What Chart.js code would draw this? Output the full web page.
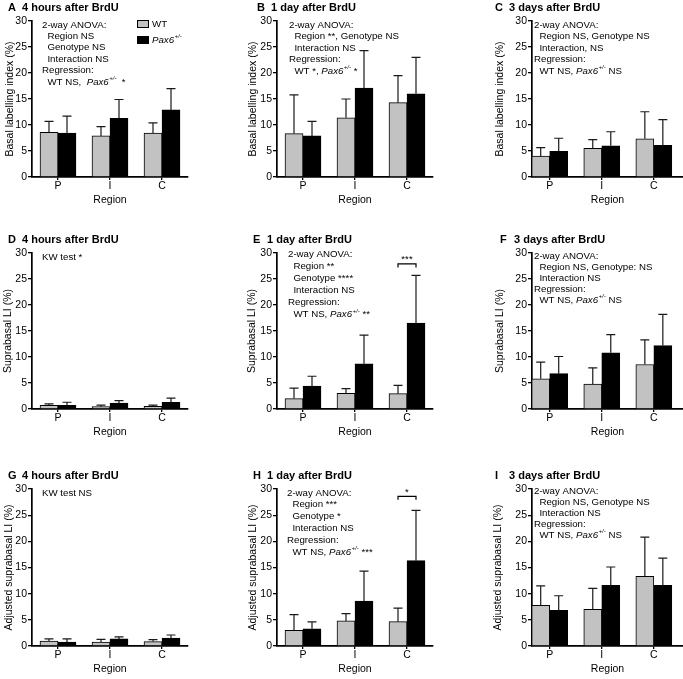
<!DOCTYPE html>
<html>
<head>
<meta charset="utf-8">
<script src="https://cdn.jsdelivr.net/npm/chart.js@4.4.1/dist/chart.umd.min.js"></script>
<style>
  html, body { margin: 0; padding: 0; background: #fff; }
  #fig { position: relative; width: 683px; height: 679px; overflow: hidden; }
  #fig canvas { position: absolute; }
</style>
</head>
<body>
<div id="fig"></div>
<script>
// ---- data (mean and SD) ----
const regions = ['P', 'I', 'C'];
const yTicks = [0, 5, 10, 15, 20, 25, 30];

// basal labelling index
const wtA = [8.6, 7.9, 8.45],   wtA_sd = [2.1, 1.8, 1.95];
const paxA = [8.45, 11.3, 12.9], paxA_sd = [3.25, 3.6, 4.1];
const wtB = [8.35, 11.4, 14.3],  wtB_sd = [7.45, 3.6, 5.2];
const paxB = [7.9, 17.1, 16.0],  paxB_sd = [2.8, 7.2, 7.0];
const wtC = [4.0, 5.5, 7.35],    wtC_sd = [1.65, 1.7, 5.2];
const paxC = [4.95, 6.0, 6.1],   paxC_sd = [2.5, 2.7, 4.95];

// suprabasal LI
const wtD = [0.7, 0.45, 0.5],    wtD_sd = [0.3, 0.3, 0.25];
const paxD = [0.7, 1.15, 1.3],   paxD_sd = [0.6, 0.45, 0.8];
const wtE = [2.0, 3.0, 2.95],    wtE_sd = [2.0, 0.9, 1.6];
const paxE = [4.4, 8.7, 16.5],   paxE_sd = [1.9, 5.5, 9.2];
const wtF = [5.8, 4.8, 8.55],    wtF_sd = [3.2, 3.1, 4.75];
const paxF = [6.8, 10.8, 12.2],  paxF_sd = [3.3, 3.5, 6.0];

// adjusted suprabasal LI
const wtG = [0.96, 0.77, 0.85],  wtG_sd = [0.4, 0.5, 0.35];
const paxG = [0.77, 1.35, 1.5],  paxG_sd = [0.6, 0.4, 0.6];
const wtH = [3.0, 4.8, 4.65],    wtH_sd = [3.0, 1.4, 2.6];
const paxH = [3.3, 8.6, 16.3],   paxH_sd = [1.3, 5.7, 9.6];
const wtI = [7.75, 7.0, 13.3],   wtI_sd = [3.75, 4.0, 7.5];
const paxI = [6.8, 11.6, 11.6],  paxI_sd = [2.8, 3.5, 5.2];

// ---- text ----
const timeTitles = ['4 hours after BrdU', '1 day after BrdU', '3 days after BrdU'];
const yTitles = ['Basal labelling index (%)', 'Suprabasal LI (%)', 'Adjusted suprabasal LI (%)'];
const notesA = ['2-way ANOVA:', '  Region NS', '  Genotype NS', '  Interaction NS', 'Regression:', '  WT NS,  Pax6+/-  *'];
const notesB = ['2-way ANOVA:', '  Region **, Genotype NS', '  Interaction NS', 'Regression:', '  WT *, Pax6+/- *'];
const notesC = ['2-way ANOVA:', '  Region NS, Genotype NS', '  Interaction, NS', 'Regression:', '  WT NS, Pax6+/- NS'];
const notesD = ['KW test *'];
const notesE = ['2-way ANOVA:', '  Region **', '  Genotype ****', '  Interaction NS', 'Regression:', '  WT NS, Pax6+/- **'];
const notesF = ['2-way ANOVA:', '  Region NS, Genotype: NS', '  Interaction NS', 'Regression:', '  WT NS, Pax6+/- NS'];
const notesG = ['KW test NS'];
const notesH = ['2-way ANOVA:', '  Region ***', '  Genotype *', '  Interaction NS', 'Regression:', '  WT NS, Pax6+/- ***'];
const notesI = ['2-way ANOVA:', '  Region NS, Genotype NS', '  Interaction NS', 'Regression:', '  WT NS, Pax6+/- NS'];

// ---- layout of the 3x3 grid (page pixels) ----
const colLeft = [0, 228, 455], colWidth = [228, 227, 228];
const rowTop = [0, 226, 452], rowHeight = [226, 226, 227];
const axisX = [32, 277, 532], plotRight = [188, 433, 683];
const plotTop = [21, 253, 489], plotBottom = [177, 409, 646];
const xRange = [[-0.5, 2.5], [-0.5, 2.5], [-0.34, 2.56]];

const FONT = '"Liberation Sans", Arial, Helvetica, sans-serif';
const GREY = '#c2c2c2';

const panels = [
  { id: 'A', row: 0, col: 0, wt: wtA, wtErr: wtA_sd, pax: paxA, paxErr: paxA_sd, notes: notesA, nx: 10, ny: 4, gap: 11.4, titleX: 8, yTitleX: 10, legend: true },
  { id: 'B', row: 0, col: 1, wt: wtB, wtErr: wtB_sd, pax: paxB, paxErr: paxB_sd, notes: notesB, nx: 12, ny: 4, gap: 11.5, titleX: 257, yTitleX: 253 },
  { id: 'C', row: 0, col: 2, wt: wtC, wtErr: wtC_sd, pax: paxC, paxErr: paxC_sd, notes: notesC, nx: 2, ny: 4, gap: 11.5, titleX: 495, yTitleX: 500 },
  { id: 'D', row: 1, col: 0, wt: wtD, wtErr: wtD_sd, pax: paxD, paxErr: paxD_sd, notes: notesD, nx: 10, ny: 4, gap: 11.5, titleX: 8, yTitleX: 8 },
  { id: 'E', row: 1, col: 1, wt: wtE, wtErr: wtE_sd, pax: paxE, paxErr: paxE_sd, notes: notesE, nx: 11, ny: 1, gap: 12.1, titleX: 253, yTitleX: 252, bracket: { value: 27.9, stars: '***' } },
  { id: 'F', row: 1, col: 2, wt: wtF, wtErr: wtF_sd, pax: paxF, paxErr: paxF_sd, notes: notesF, nx: 2, ny: 3, gap: 11, titleX: 500, yTitleX: 500 },
  { id: 'G', row: 2, col: 0, wt: wtG, wtErr: wtG_sd, pax: paxG, paxErr: paxG_sd, notes: notesG, nx: 10, ny: 4, gap: 11.5, titleX: 8, yTitleX: 9 },
  { id: 'H', row: 2, col: 1, wt: wtH, wtErr: wtH_sd, pax: paxH, paxErr: paxH_sd, notes: notesH, nx: 10, ny: 4, gap: 11.8, titleX: 253, yTitleX: 253, bracket: { value: 28.6, stars: '*' } },
  { id: 'I', row: 2, col: 2, wt: wtI, wtErr: wtI_sd, pax: paxI, paxErr: paxI_sd, notes: notesI, nx: 2, ny: 2, gap: 11, titleX: 495, yTitleX: 498 }
];

// text with an italic Pax6 and a raised +/-
function drawRich(ctx, text, x, y, size) {
  let cx = x;
  text.split(/(Pax6\+\/-)/).forEach(part => {
    if (!part) return;
    if (part === 'Pax6+/-') {
      ctx.font = `italic ${size}px ${FONT}`;
      ctx.fillText('Pax6', cx, y);
      cx += ctx.measureText('Pax6').width;
      ctx.font = `italic ${size * 0.62}px ${FONT}`;
      ctx.fillText('+/-', cx + 0.5, y - size * 0.36);
      cx += ctx.measureText('+/-').width + 0.5;
    } else {
      ctx.font = `${size}px ${FONT}`;
      ctx.fillText(part, cx, y);
      cx += ctx.measureText(part).width;
    }
  });
}

function makeDecor(p, cl, ct) {
  return {
    id: 'decor' + p.id,
    afterDatasetsDraw(chart) {
      const ctx = chart.ctx, y = chart.scales.y;
      ctx.save();
      ctx.strokeStyle = '#1a1a1a';
      ctx.lineWidth = 1.2;
      [p.wtErr, p.paxErr].forEach((errs, d) => {
        const vals = d === 0 ? p.wt : p.pax;
        chart.getDatasetMeta(d).data.forEach((bar, i) => {
          const top = y.getPixelForValue(vals[i] + errs[i]);
          ctx.beginPath();
          ctx.moveTo(bar.x, bar.y);
          ctx.lineTo(bar.x, top);
          ctx.moveTo(bar.x - 4.5, top);
          ctx.lineTo(bar.x + 4.5, top);
          ctx.stroke();
        });
      });
      ctx.restore();
    },
    afterDraw(chart) {
      const ctx = chart.ctx, area = chart.chartArea, y = chart.scales.y;
      ctx.save();
      ctx.fillStyle = '#000';
      ctx.textBaseline = 'middle';
      ctx.textAlign = 'left';

      // panel title
      const ty = plotTop[p.row] - 13 - ct;
      ctx.font = `bold 11px ${FONT}`;
      ctx.fillText(p.id, p.titleX - cl, ty);
      ctx.fillText(timeTitles[p.col], p.titleX - cl + 14, ty);

      // statistics notes
      p.notes.forEach((line, i) => {
        drawRich(ctx, line, area.left + p.nx, area.top + p.ny + i * p.gap, 9.7);
      });

      // legend (panel A only)
      if (p.legend) {
        const lx = area.left + 105;
        ctx.lineWidth = 1;
        ctx.strokeStyle = '#000';
        ctx.fillStyle = GREY;
        ctx.fillRect(lx, area.top - 1, 12, 8);
        ctx.strokeRect(lx + 0.5, area.top - 0.5, 11, 7);
        ctx.fillStyle = '#000';
        ctx.fillRect(lx, area.top + 15, 12, 8);
        drawRich(ctx, 'WT', lx + 15, area.top + 3, 9.7);
        drawRich(ctx, 'Pax6+/-', lx + 15, area.top + 19, 9.7);
      }

      // significance bracket over C
      if (p.bracket) {
        const x0 = chart.getDatasetMeta(0).data[2].x;
        const x1 = chart.getDatasetMeta(1).data[2].x;
        const by = y.getPixelForValue(p.bracket.value);
        ctx.strokeStyle = '#000';
        ctx.lineWidth = 1.2;
        ctx.beginPath();
        ctx.moveTo(x0, by + 3.5);
        ctx.lineTo(x0, by);
        ctx.lineTo(x1, by);
        ctx.lineTo(x1, by + 3.5);
        ctx.stroke();
        ctx.textAlign = 'center';
        ctx.textBaseline = 'alphabetic';
        ctx.font = `9.7px ${FONT}`;
        ctx.fillText(p.bracket.stars, (x0 + x1) / 2, by - 1.5);
      }
      ctx.restore();
    }
  };
}

Chart.defaults.font.family = FONT;
Chart.defaults.color = '#000';

const fig = document.getElementById('fig');

panels.forEach(p => {
  const cl = colLeft[p.col], ct = rowTop[p.row];
  const cw = colWidth[p.col], ch = rowHeight[p.row];
  const cv = document.createElement('canvas');
  cv.width = cw;
  cv.height = ch;
  cv.style.left = cl + 'px';
  cv.style.top = ct + 'px';
  cv.style.width = cw + 'px';
  cv.style.height = ch + 'px';
  fig.appendChild(cv);

  const yW = axisX[p.col] - cl;
  const xH = 29;
  const padTop = plotTop[p.row] - ct;
  const padBottom = ch - (plotBottom[p.row] - ct) - xH;
  const padRight = cl + cw - plotRight[p.col];

  new Chart(cv, {
    type: 'bar',
    data: {
      datasets: [
        {
          label: 'WT',
          data: p.wt.map((v, i) => ({ x: i, y: v })),
          backgroundColor: GREY,
          borderColor: '#000',
          borderWidth: 1,
          barThickness: 18
        },
        {
          label: 'Pax6+/-',
          data: p.pax.map((v, i) => ({ x: i, y: v })),
          backgroundColor: '#000',
          borderColor: '#000',
          borderWidth: 1,
          barThickness: 18
        }
      ]
    },
    options: {
      responsive: false,
      animation: false,
      devicePixelRatio: 1,
      layout: { padding: { left: 0, top: padTop, right: padRight, bottom: padBottom } },
      plugins: { legend: { display: false }, tooltip: { enabled: false } },
      scales: {
        x: {
          type: 'linear',
          bounds: 'data',
          offset: false,
          min: xRange[p.col][0],
          max: xRange[p.col][1],
          afterBuildTicks: s => { s.ticks = regions.map((r, i) => ({ value: i })); },
          afterFit: s => { s.height = xH; },
          ticks: {
            callback: v => regions[v],
            font: { size: 10.5 },
            color: '#000',
            padding: 0,
            maxRotation: 0,
            autoSkip: false
          },
          grid: { display: true, offset: false, drawOnChartArea: false, tickLength: 3, color: '#000', lineWidth: 1.3 },
          border: { display: true, color: '#000', width: 1.7 },
          title: { display: true, text: 'Region', font: { size: 10.5 }, color: '#000', padding: { top: 0, bottom: 0 } }
        },
        y: {
          min: 0,
          max: 30,
          afterBuildTicks: s => { s.ticks = yTicks.map(v => ({ value: v })); },
          afterFit: s => { s.width = yW; },
          ticks: { font: { size: 10.5 }, color: '#000', padding: 1 },
          grid: { display: true, drawOnChartArea: false, tickLength: 4, color: '#000', lineWidth: 1.3 },
          border: { display: true, color: '#000', width: 1.7 },
          title: {
            display: true,
            text: yTitles[p.row],
            font: { size: 10.5 },
            color: '#000',
            padding: { top: Math.max(p.yTitleX - cl - 6.3, 0), bottom: 0 }
          }
        }
      }
    },
    plugins: [makeDecor(p, cl, ct)]
  });
});
</script>
</body>
</html>
